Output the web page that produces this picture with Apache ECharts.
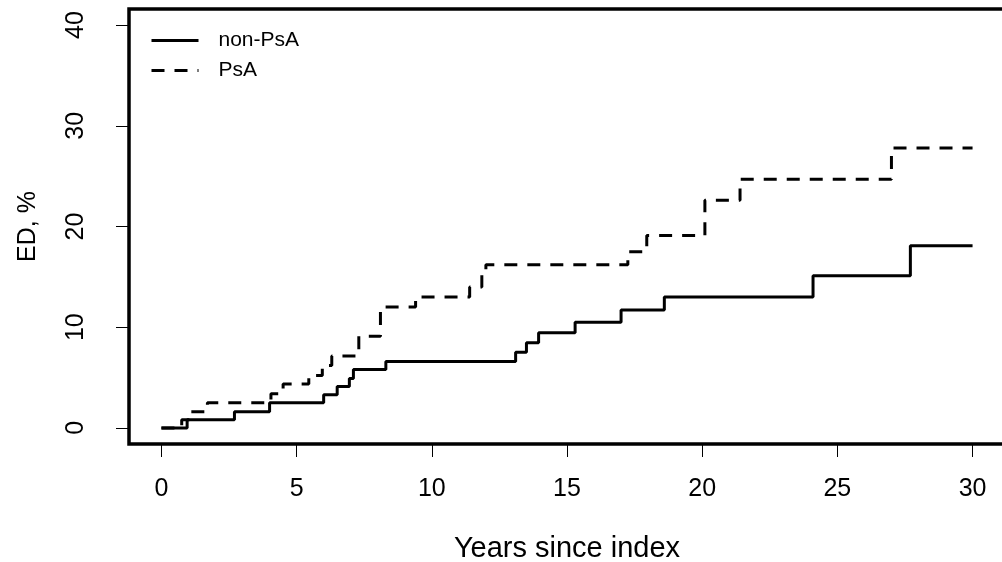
<!DOCTYPE html>
<html>
<head>
<meta charset="utf-8">
<script src="https://cdn.jsdelivr.net/npm/echarts@6/dist/echarts.min.js"></script>
<style>
html,body{margin:0;padding:0;background:#fff;}
#c{width:1002px;height:562px;}
</style>
</head>
<body>
<div id="c"></div>
<script>
// Data (years since index, cumulative ED %)
var nonPsAYears  = [0, 0.95, 2.7, 4.0, 6.0, 6.5, 6.95, 7.1, 8.3, 13.1, 13.5, 13.95, 15.3, 17.0, 18.6, 24.1, 27.7, 30];
var nonPsAValues = [0, 0.8, 1.6, 2.5, 3.3, 4.1, 4.9, 5.8, 6.6, 7.5, 8.45, 9.45, 10.5, 11.7, 13.0, 15.1, 18.1, 18.1];
var psAYears  = [0, 0.75, 1.1, 1.7, 4.05, 4.5, 5.45, 5.95, 6.3, 7.3, 8.1, 9.4, 11.4, 11.85, 12.0, 17.25, 17.95, 20.1, 21.4, 27.0, 30];
var psAValues = [0, 0.8, 1.6, 2.5, 3.4, 4.35, 5.2, 6.2, 7.15, 9.1, 12.0, 13.0, 14.0, 15.2, 16.2, 17.5, 19.1, 22.6, 24.7, 27.8, 27.8];
var seriesNames = ['non-PsA', 'PsA'];
var xTicks = [0, 5, 10, 15, 20, 25, 30];
var yTicks = [0, 10, 20, 30, 40];
var xTitle = 'Years since index';
var yTitle = 'ED, %';

function pairs(xs, ys) { return xs.map(function (x, i) { return [x, ys[i]]; }); }

// R-style 4% padding of the plotting region around the tick range
var xPad = (xTicks[xTicks.length - 1] - xTicks[0]) * 0.04;
var yPad = (yTicks[yTicks.length - 1] - yTicks[0]) * 0.04;

var font = 'Liberation Sans, Arial, Helvetica, sans-serif';
var chart = echarts.init(document.getElementById('c'), null, {renderer: 'canvas'});
chart.setOption({
  backgroundColor: '#ffffff',
  animation: false,
  textStyle: {fontFamily: font},
  grid: {
    left: 129, top: 9, width: 876, height: 435,
    containLabel: false, outerBoundsMode: 'none',
    show: true, borderColor: '#000', borderWidth: 3.5, backgroundColor: 'transparent'
  },
  legend: {
    data: seriesNames,
    orient: 'vertical',
    left: 150, top: 30, padding: 0,
    itemWidth: 47, itemHeight: 14, itemGap: 9,
    itemStyle: {opacity: 0},
    lineStyle: {width: 3},
    textStyle: {fontFamily: font, fontSize: 21, color: '#000', padding: [0, 0, 0, 15]}
  },
  xAxis: {
    type: 'value', min: xTicks[0] - xPad, max: xTicks[xTicks.length - 1] + xPad,
    name: xTitle, nameLocation: 'middle', nameGap: 90,
    nameTextStyle: {fontFamily: font, fontSize: 29, color: '#000'},
    axisLine: {show: false, onZero: false},
    axisTick: {show: true, inside: false, length: 13, customValues: xTicks, lineStyle: {color: '#000', width: 1}},
    axisLabel: {fontFamily: font, fontSize: 25, color: '#000', margin: 33, customValues: xTicks},
    splitLine: {show: false}
  },
  yAxis: {
    type: 'value', min: yTicks[0] - yPad, max: yTicks[yTicks.length - 1] + yPad,
    name: yTitle, nameLocation: 'middle', nameGap: 88,
    nameTextStyle: {fontFamily: font, fontSize: 25, color: '#000'},
    axisLine: {show: false, onZero: false},
    axisTick: {show: true, inside: false, length: 13, customValues: yTicks, lineStyle: {color: '#000', width: 1}},
    axisLabel: {fontFamily: font, fontSize: 25, color: '#000', rotate: 90, margin: 40, customValues: yTicks},
    splitLine: {show: false}
  },
  series: [
    {
      name: seriesNames[0], type: 'line', step: 'end',
      data: pairs(nonPsAYears, nonPsAValues), symbol: 'none', color: '#000',
      lineStyle: {color: '#000', width: 3, type: 'solid'}
    },
    {
      name: seriesNames[1], type: 'line', step: 'end',
      data: pairs(psAYears, psAValues), symbol: 'none', color: '#000',
      lineStyle: {color: '#000', width: 3, type: [13, 10]}
    }
  ]
});
</script>
</body>
</html>
